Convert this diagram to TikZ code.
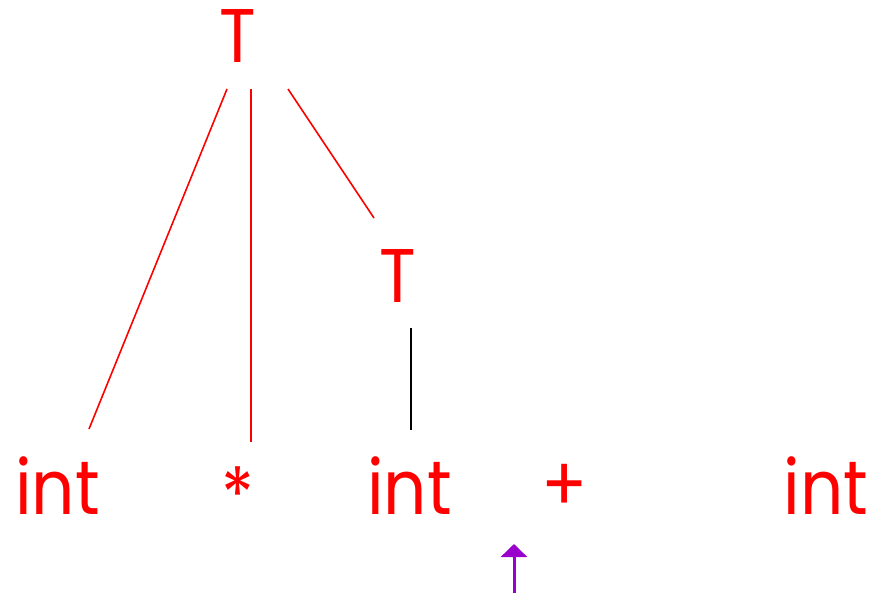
\documentclass[tikz,border=0pt]{standalone}
\usepackage{fontspec}
\setmainfont{Poppins}[FakeStretch=0.89]
\usetikzlibrary{arrows.meta}
\definecolor{tred}{RGB}{255,0,0}
\definecolor{tpurple}{RGB}{153,0,204}
\tikzset{
  sym/.style={inner sep=0pt, text=tred, font=\fontsize{76}{80}\selectfont},
  edge/.style={draw=tred, line width=1.6pt},
  blackedge/.style={draw=black, line width=2pt},
  pointer/.style={draw=tpurple, line width=3pt, -{Triangle[width=26pt,length=13pt]}}
}
\begin{document}
\begin{tikzpicture}[x=1pt,y=-1pt]
\useasboundingbox (0,0) rectangle (879,595);
% nodes
\node[sym, anchor=base] (T1) at (238,62) {T};
\node[sym, anchor=base] (T2) at (398,302) {T};
\node[sym, anchor=base] (i1) at (57.5,514) {int};
\node[sym, anchor=base] (st) at (237.5,522) {*};
\node[sym, anchor=base] (i2) at (409.5,514) {int};
\node[sym, anchor=base] (pl) at (564.5,511) {+};
\node[sym, anchor=base] (i3) at (826,514) {int};
% connector ends
\coordinate (T1l) at (227,89);
\coordinate (T1m) at (251,89);
\coordinate (T1r) at (288,89);
\coordinate (i1t) at (89,429);
\coordinate (stt) at (251,442);
\coordinate (T2t) at (374,218);
\coordinate (T2b) at (411,328);
\coordinate (i2t) at (411,430);
\coordinate (pa) at (514,593);
\coordinate (pb) at (514,544);
% connectors
\draw[edge] (T1l) -- (i1t);
\draw[edge] (T1m) -- (stt);
\draw[edge] (T1r) -- (T2t);
\draw[blackedge] (T2b) -- (i2t);
\draw[pointer] (pa) -- (pb);
\end{tikzpicture}
\end{document}
